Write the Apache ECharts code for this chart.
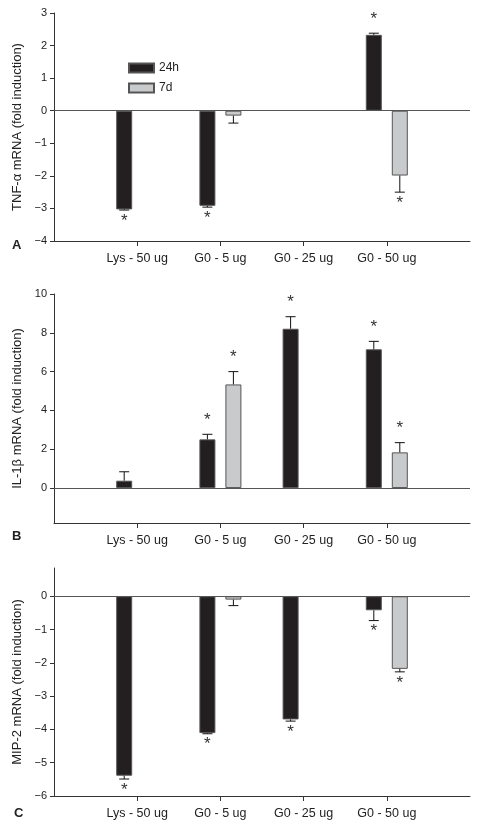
<!DOCTYPE html>
<html>
<head>
<meta charset="utf-8">
<script src="https://cdn.jsdelivr.net/npm/echarts@6/dist/echarts.min.js"></script>
<style>
html,body{margin:0;padding:0;background:#fff;}
#chart{width:481px;height:831px;}
</style>
</head>
<body>
<div id="chart"></div>
<script>
// ---- data ----
var categories = ['Lys - 50 ug', 'G0 - 5 ug', 'G0 - 25 ug', 'G0 - 50 ug'];
var seriesNames = ['24h', '7d'];

// Panel A: TNF-alpha
var tnf24 = [-3.03, -2.92, null, 2.33];
var tnf24Err = [0.02, 0.04, null, 0.05];
var tnf24Sig = [1, 1, 0, 1];
var tnf7 = [null, -0.15, null, -1.99];
var tnf7Err = [null, 0.23, null, 0.51];
var tnf7Sig = [0, 0, 0, 1];

// Panel B: IL-1beta
var il24 = [0.38, 2.51, 8.21, 7.15];
var il24Err = [0.46, 0.26, 0.62, 0.41];
var il24Sig = [0, 1, 1, 1];
var il7 = [null, 5.34, null, 1.84];
var il7Err = [null, 0.66, null, 0.50];
var il7Sig = [0, 1, 0, 1];

// Panel C: MIP-2
var mip24 = [-5.39, -4.11, -3.70, -0.42];
var mip24Err = [0.10, 0.02, 0.05, 0.31];
var mip24Sig = [1, 1, 1, 1];
var mip7 = [null, -0.10, null, -2.18];
var mip7Err = [null, 0.18, null, 0.09];
var mip7Sig = [0, 0, 0, 1];

var ticksA = [-4, -3, -2, -1, 0, 1, 2, 3];
var ticksB = [0, 2, 4, 6, 8, 10];
var ticksC = [-6, -5, -4, -3, -2, -1, 0];

// ---- helpers ----
var FONT = 'Liberation Sans, Arial, sans-serif';
var axisCats = [''].concat(categories).concat([' ']);
var BLACK = '#231f20', GRAY = '#c9cacc';
var OFF = [-13, 13];

function padded(arr) { return [null].concat(arr).concat([null]); }
function fmt(v) { return v < 0 ? '\u2212' + Math.abs(v) : String(v); }

function errData(vals, errs, sig) {
  var out = [];
  vals.forEach(function (v, i) {
    if (v === null) return;
    var dir = v >= 0 ? 1 : -1;
    out.push([i + 1, v, v + dir * errs[i], sig[i], dir]);
  });
  return out;
}

function errRender(offset) {
  return function (params, api) {
    var x = api.coord([api.value(0), 0])[0] + offset;
    var y1 = api.coord([api.value(0), api.value(1)])[1];
    var y2 = api.coord([api.value(0), api.value(2)])[1];
    var dir = api.value(4);
    var children = [
      {type: 'line', shape: {x1: x, y1: y1, x2: x, y2: y2}, style: {stroke: '#111', lineWidth: 1}},
      {type: 'line', shape: {x1: x - 5, y1: y2, x2: x + 5, y2: y2}, style: {stroke: '#111', lineWidth: 1}}
    ];
    if (api.value(3)) {
      children.push({
        type: 'text',
        style: {
          text: '*', x: x, y: dir > 0 ? y2 - 14 : y2 + 11,
          align: 'center', verticalAlign: 'middle',
          font: '17px ' + FONT, fill: '#333'
        }
      });
    }
    return {type: 'group', children: children};
  };
}

var grids = [
  {left: 54, top: 13, width: 416, height: 228},
  {left: 54, top: 294, width: 416, height: 229},
  {left: 54, top: 568, width: 416, height: 228}
];

function xAxisFor(i) {
  return {
    type: 'category', gridIndex: i, data: axisCats, boundaryGap: false,
    axisLine: {show: true, onZero: false, lineStyle: {color: '#333', width: 1}},
    axisTick: {show: true, length: 5, lineStyle: {color: '#333'},
      interval: function (idx) { return idx >= 1 && idx <= 4; }},
    axisLabel: {color: '#222', fontSize: 12.5, fontFamily: FONT, margin: 11, interval: 0},
    splitLine: {show: false}
  };
}

function yAxisFor(i, min, max, ticks, name) {
  return {
    type: 'value', gridIndex: i, min: min, max: max,
    name: name, nameLocation: 'middle', nameGap: 30,
    nameTextStyle: {fontSize: 13, fontFamily: FONT, color: '#222'},
    axisLine: {show: true, onZero: false, lineStyle: {color: '#333', width: 1}},
    axisTick: {show: true, length: 4, inside: false, customValues: ticks, lineStyle: {color: '#333'}},
    axisLabel: {customValues: ticks, formatter: fmt, fontSize: 11, fontFamily: FONT, color: '#222', margin: 7},
    splitLine: {show: false}
  };
}

function barSeries(gi, name, vals, color, border) {
  return {
    type: 'bar', name: name, xAxisIndex: gi, yAxisIndex: gi,
    data: padded(vals), barWidth: 16, barGap: '62.5%',
    itemStyle: {color: color, borderColor: border, borderWidth: 1},
    animation: false,
    markLine: name === '24h' ? {
      silent: true, symbol: 'none', label: {show: false},
      lineStyle: {color: '#555', width: 1, type: 'solid'},
      data: [{yAxis: 0}], animation: false
    } : undefined
  };
}

function errSeries(gi, vals, errs, sig, offset) {
  return {
    type: 'custom', xAxisIndex: gi, yAxisIndex: gi,
    data: errData(vals, errs, sig), renderItem: errRender(offset),
    animation: false, silent: true, z: 3
  };
}

var series = [];
var panels = [
  [tnf24, tnf24Err, tnf24Sig, tnf7, tnf7Err, tnf7Sig],
  [il24, il24Err, il24Sig, il7, il7Err, il7Sig],
  [mip24, mip24Err, mip24Sig, mip7, mip7Err, mip7Sig]
];
panels.forEach(function (p, gi) {
  series.push(barSeries(gi, seriesNames[0], p[0], BLACK, '#555'));
  series.push(barSeries(gi, seriesNames[1], p[3], GRAY, '#555'));
  series.push(errSeries(gi, p[0], p[1], p[2], OFF[0]));
  series.push(errSeries(gi, p[3], p[4], p[5], OFF[1]));
});

var chart = echarts.init(document.getElementById('chart'), null, {renderer: 'canvas'});
chart.setOption({
  backgroundColor: '#fff',
  animation: false,
  grid: grids,
  xAxis: [xAxisFor(0), xAxisFor(1), xAxisFor(2)],
  yAxis: [
    yAxisFor(0, -4, 3, ticksA, 'TNF-\u03b1 mRNA (fold induction)'),
    yAxisFor(1, -1.8, 10, ticksB, 'IL-1\u03b2 mRNA (fold induction)'),
    yAxisFor(2, -6, 0.85, ticksC, 'MIP-2 mRNA (fold induction)')
  ],
  legend: {
    data: seriesNames, orient: 'vertical', left: 123, top: 57,
    itemWidth: 25, itemHeight: 9, itemGap: 8, selectedMode: false,
    icon: 'rect',
    textStyle: {fontSize: 12, fontFamily: FONT, color: '#222'}
  },
  graphic: [
    {type: 'text', left: 12, top: 239, style: {text: 'A', font: 'bold 13px ' + FONT, fill: '#222'}},
    {type: 'text', left: 12, top: 530, style: {text: 'B', font: 'bold 13px ' + FONT, fill: '#222'}},
    {type: 'text', left: 14, top: 807, style: {text: 'C', font: 'bold 13px ' + FONT, fill: '#222'}}
  ],
  series: series
});
</script>
</body>
</html>
